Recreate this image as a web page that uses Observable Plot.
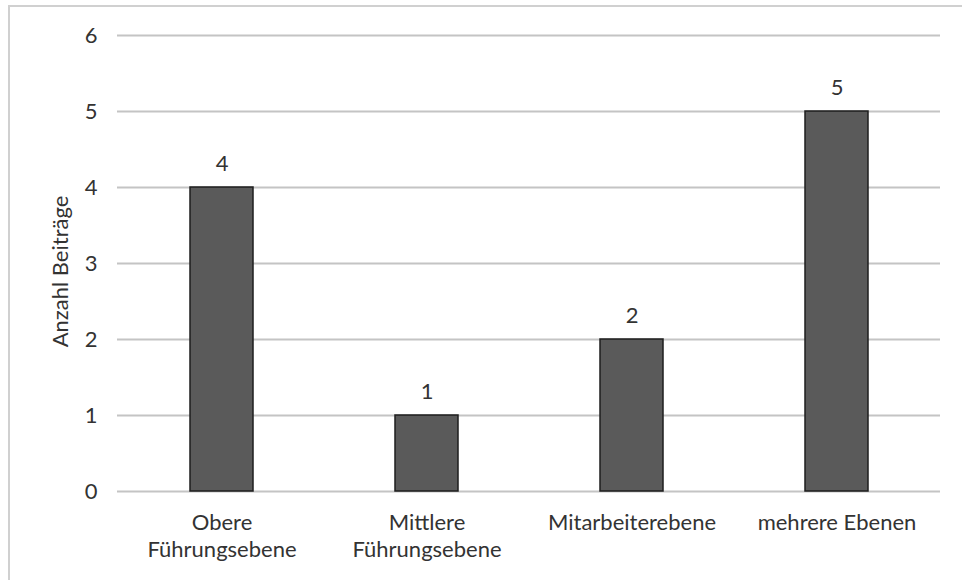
<!DOCTYPE html>
<html>
<head>
<meta charset="utf-8">
<script src="https://cdn.jsdelivr.net/npm/d3@7"></script>
<script src="https://cdn.jsdelivr.net/npm/@observablehq/plot@0.6"></script>
<style>
  html, body { margin: 0; padding: 0; background: #fff; }
  #wrap { position: relative; width: 962px; height: 580px; overflow: hidden; }
  #border { position: absolute; left: 8px; top: 5px; width: 970px; height: 600px;
            border-left: 2px solid #d0d0d0; border-top: 2px solid #d0d0d0; box-sizing: border-box; pointer-events: none; }
  #wrap svg { position: absolute; left: 0; top: 0; }
</style>
</head>
<body>
<div id="wrap"><div id="border"></div></div>
<script>
const categories = ["Obere\nFührungsebene", "Mittlere\nFührungsebene", "Mitarbeiterebene", "mehrere Ebenen"];
const values = [4, 1, 2, 5];
const yTicks = [0, 1, 2, 3, 4, 5, 6];
const yLabel = "Anzahl Beiträge";

const data = categories.map((c, i) => ({category: c, value: values[i]}));
const font = "Lato, 'Open Sans', sans-serif";

const chart = Plot.plot({
  width: 962,
  height: 580,
  marginLeft: 117,
  marginRight: 22,
  marginTop: 35,
  marginBottom: 89,
  style: {fontFamily: font, fontSize: "22px", color: "#333", background: "transparent"},
  x: {domain: categories, paddingInner: 0.694, paddingOuter: 0.347, label: null},
  y: {domain: [0, 6], label: null},
  marks: [
    Plot.ruleY(yTicks, {stroke: "#c4c4c4", strokeWidth: 2}),
    Plot.barY(data, {x: "category", y: "value", fill: "#5a5a5a", stroke: "#1e1e1e", strokeWidth: 1.5}),
    Plot.text(data, {x: "category", y: "value", text: d => String(d.value), dy: -24, fontSize: 22, fill: "#333"}),
    Plot.axisY({ticks: yTicks, tickFormat: "d", tickSize: 0, tickPadding: 20, fontSize: 22, label: null, fill: "#333"}),
    Plot.axisX({tickSize: 0, tickPadding: 20, fontSize: 22, lineHeight: 1.2, label: null, fill: "#333"}),
    Plot.text([yLabel], {frameAnchor: "left", textAnchor: "middle", text: d => d, rotate: -90, dx: -57, dy: 8, fontSize: 22, fill: "#333"})
  ]
});
document.getElementById("wrap").appendChild(chart);
</script>
</body>
</html>
